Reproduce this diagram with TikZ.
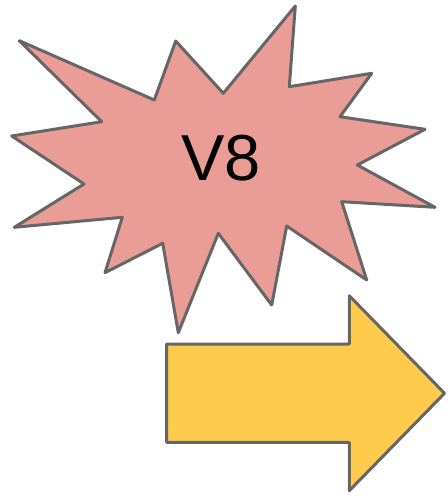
\documentclass[tikz,border=0pt]{standalone}
\usepackage{fontspec}
\setmainfont{Liberation Sans}
\definecolor{starfill}{RGB}{234,157,151}
\definecolor{arrowfill}{RGB}{255,203,77}
\definecolor{edge}{RGB}{102,102,102}
\begin{document}
\begin{tikzpicture}[x=1pt,y=-1pt,
  shapeline/.style={draw=edge,line width=3pt,line join=round}]
\useasboundingbox (0,0) rectangle (447,495);
\draw[shapeline,fill=starfill] (19.3,40.7) -- (154.3,100) -- (175.7,41) -- (223.3,93.3) -- (295.3,6) -- (289.3,86.7) -- (371.7,73.3) -- (340,116.7) -- (425,129.3) -- (357.3,165) -- (435,207.3) -- (341.7,201.7) -- (366.7,280) -- (286.7,226) -- (271.7,305) -- (218.3,233.3) -- (178.3,332.7) -- (162.7,243.3) -- (105,272.7) -- (122.3,217.3) -- (14.3,227.3) -- (84,184) -- (11.7,136) -- (101.7,121.7) -- cycle;
\node[font=\fontsize{65}{70}\selectfont] (v8) at (221,158) {V8};
\draw[shapeline,fill=arrowfill] (166.7,344) -- (349.3,344) -- (349.3,295.7) -- (444.5,393.3) -- (349.3,490.7) -- (349.3,442.3) -- (166.7,442.3) -- cycle;
\end{tikzpicture}
\end{document}
